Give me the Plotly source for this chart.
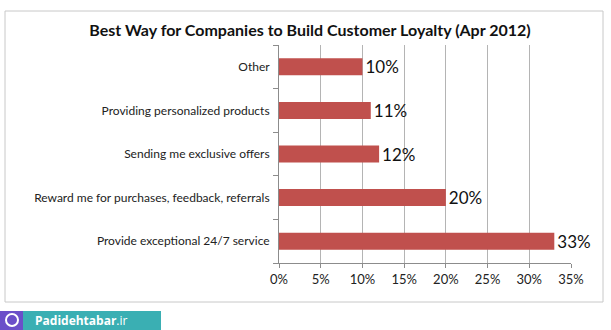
import plotly.graph_objects as go

categories = ["Provide exceptional 24/7 service",
              "Reward me for purchases, feedback, referrals",
              "Sending me exclusive offers",
              "Providing personalized products",
              "Other"]
values = [33, 20, 12, 11, 10]
labels = ["33%", "20%", "12%", "11%", "10%"]
x_ticks = [0, 5, 10, 15, 20, 25, 30, 35]
x_tick_text = ["0%", "5%", "10%", "15%", "20%", "25%", "30%", "35%"]
title = "Best Way for Companies to Build Customer Loyalty (Apr 2012)"

W, H = 611, 330
L, R, T, B = 279, 40, 45, 67
pw, ph = W - L - R, H - T - B

def px(x):
    return (x - L) / pw

def py(y):
    return 1 - (y - T) / ph

fig = go.Figure(go.Bar(
    y=categories, x=values, orientation="h",
    marker=dict(color="#C0504D", line=dict(width=0)),
    text=labels, textposition="outside", cliponaxis=False, constraintext="none",
    textfont=dict(family="Lato, Open Sans, sans-serif", size=17, color="#111"),
))

shapes = [
    dict(type="rect", xref="paper", yref="paper", x0=px(5), x1=px(603), y0=py(302), y1=py(11),
         line=dict(color="#c8c8c8", width=1), fillcolor="rgba(0,0,0,0)", layer="below"),
    dict(type="rect", xref="paper", yref="paper", x0=px(0), x1=px(161), y0=py(330), y1=py(311),
         line=dict(width=0), fillcolor="#3AAFB3"),
    dict(type="rect", xref="paper", yref="paper", x0=px(0), x1=px(23), y0=py(330), y1=py(311),
         line=dict(width=0), fillcolor="#6B4FC9"),
    dict(type="circle", xref="paper", yref="paper", x0=px(6), x1=px(18), y0=py(326), y1=py(314),
         line=dict(color="white", width=2), fillcolor="#6B4FC9"),
]

fig.update_layout(
    width=W, height=H,
    margin=dict(l=L, r=R, t=T, b=B),
    paper_bgcolor="white", plot_bgcolor="white",
    showlegend=False,
    bargap=0.61,
    title=dict(text="<b>" + title + "</b>", xref="container", x=310 / W, xanchor="center",
               yref="container", y=1 - 30 / H, yanchor="middle",
               font=dict(family="Lato, Open Sans, sans-serif", size=16, color="#111")),
    xaxis=dict(range=[0, 35], tickvals=x_ticks, ticktext=x_tick_text,
               showgrid=True, gridcolor="#b4b4b4", gridwidth=1,
               showline=True, linecolor="#8c8c8c", linewidth=1,
               ticks="outside", ticklen=4, tickcolor="#8c8c8c",
               tickfont=dict(family="Lato, Open Sans, sans-serif", size=13, color="#222"),
               zeroline=False, fixedrange=True),
    yaxis=dict(categoryorder="array", categoryarray=categories,
               showline=True, linecolor="#8c8c8c", linewidth=1,
               ticks="outside", tickson="boundaries", ticklen=5, tickcolor="#8c8c8c",
               showgrid=False,
               tickfont=dict(family="Lato, Open Sans, sans-serif", size=12, color="#222"),
               ticklabelstandoff=6, fixedrange=True),
    shapes=shapes,
    annotations=[
        dict(text="<b>Padidehtabar</b>.ir", xref="paper", yref="paper", x=px(33), y=py(320.5),
             xanchor="left", yanchor="middle", showarrow=False,
             font=dict(family="Open Sans, sans-serif", size=12, color="white")),
    ],
)

fig.write_html("out.html")
